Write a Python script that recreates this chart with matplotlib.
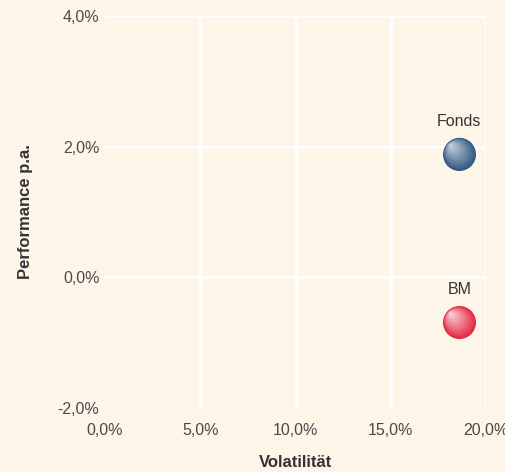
import matplotlib
matplotlib.use("Agg")
import matplotlib.pyplot as plt
import matplotlib.transforms as mtransforms
from matplotlib.colors import to_rgb
from matplotlib.ticker import FuncFormatter
import numpy as np

plt.rcParams["font.family"] = ["Liberation Sans", "DejaVu Sans"]

# Data (percent)
names = ["Fonds", "BM"]
volatility = [18.6, 18.6]
performance = [1.89, -0.69]
dark_colors = ["#2c5380", "#e2203d"]
light_colors = ["#c9d5e2", "#fcd6dc"]

x_ticks = [0, 5, 10, 15, 20]
y_ticks = [-2, 0, 2, 4]

bg = "#fef5e9"
txt = "#4a4a4a"

fig = plt.figure(figsize=(5.05, 4.72), dpi=100, facecolor=bg)
ax = fig.add_axes([105 / 505, 64 / 472, 381 / 505, 392 / 472], facecolor=bg)

ax.set_xlim(0, 20)
ax.set_ylim(-2, 4)
ax.set_xticks(x_ticks)
ax.set_yticks(y_ticks)

pct = FuncFormatter(lambda v, p: ("%.1f%%" % v).replace(".", ","))
ax.xaxis.set_major_formatter(pct)
ax.yaxis.set_major_formatter(pct)

for s in ax.spines.values():
    s.set_visible(False)
ax.tick_params(length=0, colors=txt, labelsize=11.5)
ax.tick_params(axis="x", pad=11)
ax.tick_params(axis="y", pad=4)

ax.grid(True, color="white", linewidth=2)
ax.set_axisbelow(True)
ax.xaxis.get_major_ticks()[0].gridline.set_visible(False)
ax.yaxis.get_major_ticks()[0].gridline.set_visible(False)

ax.set_xlabel("Volatilität", fontsize=12, fontweight="bold", color="#333333", labelpad=12)
ax.set_ylabel("Performance p.a.", fontsize=12, fontweight="bold", color="#333333", labelpad=18)

# shaded balls: stacked circles shifted up-left to fake a radial gradient
n = 40
base_size = 560
for x, y, name, dc, lc in zip(volatility, performance, names, dark_colors, light_colors):
    d = np.array(to_rgb(dc))
    l = np.array(to_rgb(lc))
    for k in range(n):
        f = k / n
        size = base_size * (1 - f) ** 2
        off = 7 * f
        tr = mtransforms.offset_copy(ax.transData, fig=fig, x=-off, y=off, units="points")
        col = d + (l - d) * f ** 0.9
        ax.scatter([x], [y], s=size, color=col, linewidths=0, transform=tr, zorder=3 + k * 0.01)
    ax.annotate(name, (x, y), xytext=(0, 18), textcoords="offset points",
                ha="center", va="bottom", fontsize=11.5, color="#333333")

fig.savefig("out.png", dpi=100, facecolor=bg)
